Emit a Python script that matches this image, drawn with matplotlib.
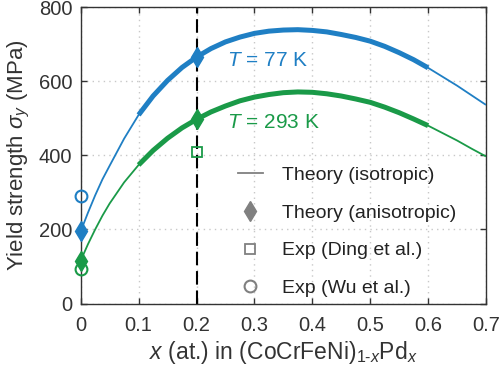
import numpy as np
import matplotlib
matplotlib.use("Agg")
import matplotlib.pyplot as plt
from matplotlib.lines import Line2D

plt.rcParams['font.family'] = ['Liberation Sans', 'DejaVu Sans']
plt.rcParams['mathtext.fontset'] = 'custom'
plt.rcParams['mathtext.it'] = 'Liberation Sans:italic'
plt.rcParams['mathtext.rm'] = 'Liberation Sans'

# Theory curves (isotropic)
x_curve = [0.0, 0.0125, 0.025, 0.0375, 0.05, 0.075, 0.1, 0.125, 0.15, 0.175, 0.2,
           0.225, 0.25, 0.275, 0.3, 0.325, 0.35, 0.375, 0.4, 0.425, 0.45, 0.475,
           0.5, 0.525, 0.55, 0.575, 0.6, 0.625, 0.65, 0.675, 0.7]
s77 = [195, 245, 292, 335, 372, 445, 509, 560, 602, 637, 665,
       688, 706, 719, 729, 735, 738, 739, 737, 733, 726, 718,
       708, 694, 677, 658, 636, 612, 588, 562, 536]
s293 = [116, 160, 200, 237, 270, 327, 374, 413, 446, 474, 497,
        517, 533, 547, 557, 564, 569, 571, 570, 566, 560, 552,
        543, 530, 515, 498, 480, 460, 440, 418, 397]

# Theory (anisotropic)
x_aniso = [0.0, 0.2]
aniso77 = [195, 665]
aniso293 = [116, 497]

# Experiments
x_ding = [0.2]
ding293 = [410]
x_wu = [0.0]
wu77 = [290]
wu293 = [92]

blue = '#1f7fc4'
green = '#1a9a48'
gray = '#808080'

fig = plt.figure(figsize=(5.0, 3.72), dpi=100)
ax = fig.add_axes([0.1614, 0.184, 0.8106, 0.797])

xc = np.array(x_curve)
for ys, c in [(s77, blue), (s293, green)]:
    ys = np.array(ys)
    ax.plot(xc, ys, color=c, lw=1.3, zorder=3, solid_capstyle='butt')
    m = (xc >= 0.1 - 1e-9) & (xc <= 0.6 + 1e-9)
    ax.plot(xc[m], ys[m], color=c, lw=3.6, zorder=3, solid_capstyle='butt',
            solid_joinstyle='round')

ax.axvline(0.2, color='black', lw=1.5, ls=(0, (6.5, 2.8)), zorder=2)

mk = []
mk += ax.plot(x_aniso, aniso77, 'd', color=blue, ms=10, zorder=5)
mk += ax.plot(x_aniso, aniso293, 'd', color=green, ms=10, zorder=5)
mk += ax.plot(x_ding, ding293, 's', mfc='none', mec=green, mew=1.3, ms=6.5, zorder=5)
mk += ax.plot(x_wu, wu77, 'o', mfc='none', mec=blue, mew=1.5, ms=8.5, zorder=5)
mk += ax.plot(x_wu, wu293, 'o', mfc='none', mec=green, mew=1.5, ms=8.5, zorder=5)
for l in mk:
    l.set_clip_on(False)

ax.text(0.252, 655, r'$T$ = 77 K', color=blue, fontsize=15, va='center', ha='left')
ax.text(0.252, 488, r'$T$ = 293 K', color=green, fontsize=15, va='center', ha='left')

ax.set_xlim(0, 0.7)
ax.set_ylim(0, 800)
ax.set_xticks([0, 0.1, 0.2, 0.3, 0.4, 0.5, 0.6, 0.7])
ax.set_xticklabels(['0', '0.1', '0.2', '0.3', '0.4', '0.5', '0.6', '0.7'])
ax.set_yticks([0, 200, 400, 600, 800])
ax.grid(True, color='#c8c8c8', ls=(0, (1, 3)), lw=1.0)
ax.set_axisbelow(True)
ax.tick_params(direction='in', top=True, right=True, length=4, width=1,
               labelsize=14.5, colors='#333333')
ax.tick_params(axis='x', pad=9)
ax.tick_params(axis='y', pad=6)
for sp in ax.spines.values():
    sp.set_color('#333333')
    sp.set_linewidth(1.0)

ax.set_xlabel(r'$x$ (at.) in (CoCrFeNi)$_{1\text{-}x}$Pd$_{x}$', fontsize=16.5, color='#333333', labelpad=3)
ax.set_ylabel(r'Yield strength $\sigma_{y}$ (MPa)', fontsize=16, color='#333333', labelpad=5)

handles = [
    Line2D([], [], color=gray, lw=1.3),
    Line2D([], [], color=gray, marker='d', ls='none', ms=10),
    Line2D([], [], color=gray, marker='s', ls='none', mfc='none', mew=1.3, ms=6.5),
    Line2D([], [], color=gray, marker='o', ls='none', mfc='none', mew=1.5, ms=8.5),
]
labels = ['Theory (isotropic)', 'Theory (anisotropic)', 'Exp (Ding et al.)', 'Exp (Wu et al.)']
leg = ax.legend(handles, labels, loc='lower left', bbox_to_anchor=(0.368, -0.004),
                frameon=False, fontsize=14, handlelength=1.3, handletextpad=1.0,
                labelspacing=1.03, borderaxespad=0.0)
for t in leg.get_texts():
    t.set_color('#222222')

fig.savefig('out.png', dpi=100)
